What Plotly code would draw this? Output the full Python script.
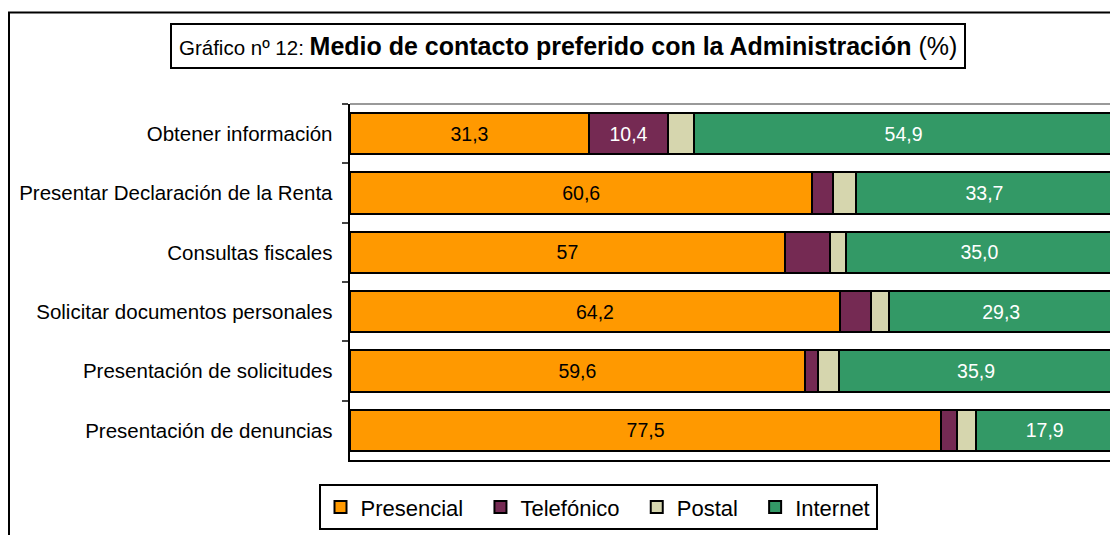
import plotly.graph_objects as go

categorias = [
    "Obtener información",
    "Presentar Declaración de la Renta",
    "Consultas fiscales",
    "Solicitar documentos personales",
    "Presentación de solicitudes",
    "Presentación de denuncias",
]

presencial = [31.3, 60.6, 57.0, 64.2, 59.6, 77.5]
telefonico = [10.4, 2.7, 5.9, 4.1, 1.7, 2.1]
postal = [3.4, 3.0, 2.1, 2.4, 2.8, 2.5]
internet = [54.9, 33.7, 35.0, 29.3, 35.9, 17.9]

txt_presencial = ["31,3", "60,6", "57", "64,2", "59,6", "77,5"]
txt_telefonico = ["10,4", "", "", "", "", ""]
txt_internet = ["54,9", "33,7", "35,0", "29,3", "35,9", "17,9"]

nbsp = "\u00a0\u00a0"
series = [
    ("Presencial" + nbsp, presencial, "#FF9900", txt_presencial, "black"),
    ("Telefónico" + nbsp, telefonico, "#752A53", txt_telefonico, "white"),
    ("Postal" + nbsp, postal, "#D6D6AE", None, "black"),
    ("Internet", internet, "#339966", txt_internet, "white"),
]

fig = go.Figure()
for nombre, valores, color, textos, tcolor in series:
    fig.add_trace(go.Bar(
        y=categorias, x=valores, name=nombre, orientation="h",
        marker=dict(color=color, line=dict(color="black", width=2)),
        text=textos, textposition="inside", insidetextanchor="middle",
        textfont=dict(size=19.5, color=tcolor, family="Liberation Sans"),
        textangle=0, hoverinfo="x+name",
    ))

# the page has an 8px body margin, so the figure is 8px smaller than the window
OFF = 8
W, H = 1118 - OFF, 535 - OFF
L, R, T = 350 - OFF, 5, 104 - OFF
B = H - (466 - OFF)
pw, ph = W - L - R, H - T - B


def px_x(p):
    return (p - OFF - L) / pw


def px_y(p):
    return (H - B - (p - OFF)) / ph


fig.update_layout(
    width=W, height=H,
    barmode="stack", bargap=0.3,
    separators=",.",
    plot_bgcolor="white", paper_bgcolor="white",
    margin=dict(l=L, r=R, t=T, b=B),
    font=dict(family="Liberation Sans", color="black", size=20),
    uniformtext=dict(minsize=10, mode="show"),
    legend=dict(
        orientation="h", x=px_x(598), y=px_y(514),
        xanchor="center", yanchor="middle",
        bordercolor="black", borderwidth=2,
        font=dict(size=22), traceorder="normal",
        itemwidth=30, tracegroupgap=0,
    ),
    xaxis=dict(
        range=[0, 100], showgrid=False, showticklabels=False, zeroline=False,
        showline=True, linecolor="black", linewidth=2, ticks="",
    ),
    yaxis=dict(
        autorange="reversed", showgrid=False, showline=True,
        linecolor="black", linewidth=2, ticks="outside", ticklen=6,
        tickwidth=2, tickson="boundaries", ticksuffix="  ",
        tickfont=dict(size=20.5),
    ),
    shapes=[
        dict(type="rect", xref="paper", yref="paper",
             x0=px_x(9), x1=px_x(1130), y0=px_y(11), y1=px_y(545),
             line=dict(color="black", width=2), layer="below"),
        dict(type="line", xref="paper", yref="paper",
             x0=0, x1=1, y0=1, y1=1, line=dict(color="#999999", width=2)),
        dict(type="line", xref="paper", yref="paper",
             x0=1, x1=1, y0=0, y1=1, line=dict(color="#999999", width=2)),
    ],
    annotations=[
        dict(
            xref="paper", yref="paper", x=px_x(568), y=px_y(45),
            xanchor="center", yanchor="middle", showarrow=False,
            text=("<span style='font-size:20.5px'>Gráfico nº 12: </span>"
                  "<b>Medio de contacto preferido con la Administración</b>"
                  " (%)"),
            font=dict(size=25, family="Liberation Sans", color="black"),
            bordercolor="black", borderwidth=2, borderpad=7, bgcolor="white",
        )
    ],
)

fig.write_html("out.html")
